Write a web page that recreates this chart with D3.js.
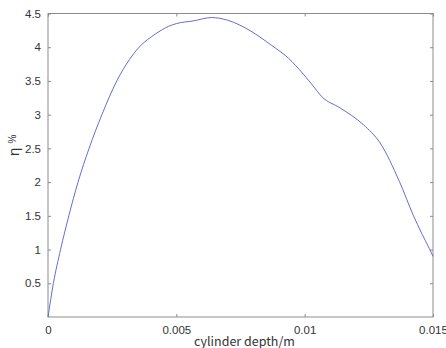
<!DOCTYPE html>
<html>
<head>
<meta charset="utf-8">
<script src="https://d3js.org/d3.v7.min.js"></script>
<style>
  body { margin: 0; background: #fff; }
  text { font-family: "Liberation Sans", Arial, sans-serif; fill: #333; }
</style>
</head>
<body>
<div id="chart"></div>
<script>
// cylinder depth (m) vs efficiency (%)
var depth = [0, 0.00021, 0.00049, 0.00081, 0.00117, 0.00160, 0.00210, 0.00268, 0.00318, 0.00355,
             0.00420, 0.00470, 0.00500, 0.00566, 0.00638, 0.00700, 0.00790, 0.00870, 0.00936,
             0.00995, 0.01034, 0.01066, 0.01138, 0.01229, 0.01294, 0.01369, 0.01423, 0.01456,
             0.01485, 0.01500];
var eta = [0, 0.50, 1.00, 1.50, 2.00, 2.50, 3.00, 3.50, 3.82, 4.00,
           4.20, 4.31, 4.35, 4.39, 4.44, 4.40, 4.24, 4.03, 3.84,
           3.60, 3.42, 3.27, 3.10, 2.85, 2.58, 2.01, 1.51, 1.24,
           1.02, 0.90];
var xTicks = [0, 0.005, 0.01, 0.015];
var yTicks = [0.5, 1, 1.5, 2, 2.5, 3, 3.5, 4, 4.5];

var margin = {top: 13.5, right: 13, bottom: 31, left: 48},
    width = 446 - margin.left - margin.right,
    height = 348 - margin.top - margin.bottom;

var svg = d3.select("#chart").append("svg")
    .attr("width", 446)
    .attr("height", 348)
  .append("g")
    .attr("transform", "translate(" + margin.left + "," + margin.top + ")");

var x = d3.scaleLinear().domain([0, 0.015]).range([0, width]);
var y = d3.scaleLinear().domain([0, 4.5]).range([height, 0]);

// box
svg.append("rect")
    .attr("x", 0).attr("y", 0)
    .attr("width", width).attr("height", height)
    .attr("fill", "none")
    .attr("stroke", "#8c8c8c")
    .attr("stroke-width", 1);

// axes with inward ticks
function styleAxis(g) {
  g.select(".domain").remove();
  g.selectAll(".tick line").attr("stroke", "#8c8c8c");
  g.selectAll(".tick text")
    .style("font-size", "11.5px")
    .style("font-family", "'Liberation Sans', Arial, sans-serif")
    .attr("fill", "#333");
}

svg.append("g")
    .attr("transform", "translate(0," + height + ")")
    .call(d3.axisBottom(x).tickValues(xTicks).tickSizeInner(-3).tickSizeOuter(0)
      .tickPadding(9).tickFormat(d3.format("")))
    .call(styleAxis);

svg.append("g")
    .call(d3.axisTop(x).tickValues(xTicks).tickSizeInner(-3).tickSizeOuter(0).tickFormat(""))
    .call(styleAxis);

svg.append("g")
    .call(d3.axisLeft(y).tickValues(yTicks).tickSizeInner(-3).tickSizeOuter(0)
      .tickPadding(7).tickFormat(d3.format("")))
    .call(styleAxis);

svg.append("g")
    .attr("transform", "translate(" + width + ",0)")
    .call(d3.axisRight(y).tickValues(yTicks).tickSizeInner(-3).tickSizeOuter(0).tickFormat(""))
    .call(styleAxis);

// curve
var pts = depth.map(function(d, i) { return [d, eta[i]]; });
svg.append("path")
    .datum(pts)
    .attr("fill", "none")
    .attr("stroke", "#6a6ad4")
    .attr("stroke-width", 1)
    .attr("d", d3.line()
      .x(function(d) { return x(d[0]); })
      .y(function(d) { return y(d[1]); })
      .curve(d3.curveMonotoneX));

// labels
svg.append("text")
    .attr("x", width / 2 + 4)
    .attr("y", height + 28.5)
    .attr("text-anchor", "middle")
    .style("font-size", "12.5px")
    .style("font-family", "'Noto Sans CJK KR', 'Noto Sans', sans-serif")
    .text("cylinder depth/m");

var yl = svg.append("text")
    .attr("transform", "translate(" + (-29) + "," + (height / 2 - 20) + ") rotate(-90)")
    .attr("text-anchor", "middle")
    .style("font-size", "15px");
yl.append("tspan").text("η ");
yl.append("tspan").style("font-size", "10px").attr("dy", -3).text("%");
</script>
</body>
</html>
